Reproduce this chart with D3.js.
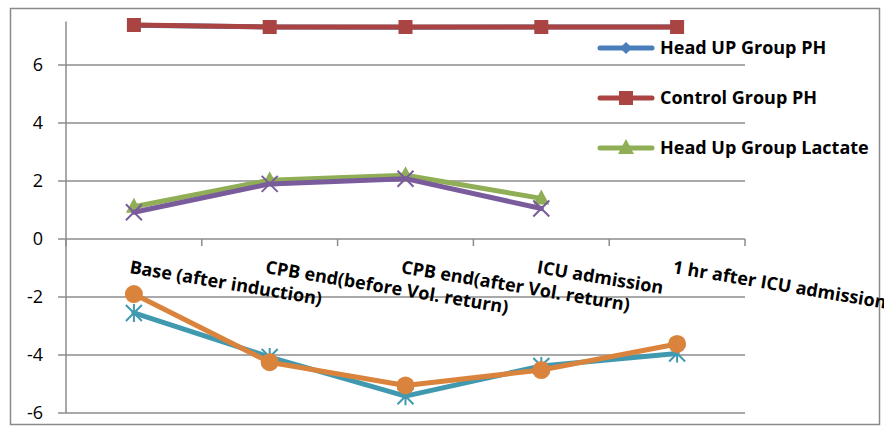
<!DOCTYPE html>
<html><head><meta charset="utf-8">
<script src="https://cdn.jsdelivr.net/npm/d3@7"></script>
<style>body{margin:0;background:#fff}svg{display:block}</style>
</head><body>
<svg id="c" width="884" height="429"></svg>
<script>
const categories = ["Base (after induction)", "CPB end(before Vol. return)", "CPB end(after Vol. return)", "ICU admission", "1 hr after ICU admission"];
const headUpPH = [7.37, 7.31, 7.30, 7.31, 7.31];
const controlPH = [7.38, 7.31, 7.31, 7.31, 7.31];
const headUpLactate = [1.11, 2.03, 2.2, 1.4];
const controlLactate = [0.92, 1.9, 2.08, 1.05];
const headUpBE = [-2.55, -4.07, -5.42, -4.38, -3.95];
const controlBE = [-1.9, -4.25, -5.05, -4.52, -3.62];
const yTicks = [-6, -4, -2, 0, 2, 4, 6];
const legendNames = ["Head UP Group PH", "Control Group PH", "Head Up Group Lactate"];

const series = [
  {vals: headUpPH, color: "#4A7EBB", marker: "diamond"},
  {vals: controlPH, color: "#A94442", marker: "square"},
  {vals: headUpLactate, color: "#8FAE55", marker: "triangle"},
  {vals: controlLactate, color: "#7A5C9C", marker: "x"},
  {vals: headUpBE, color: "#4199B0", marker: "star"},
  {vals: controlBE, color: "#DA833C", marker: "circle"}
];

const FONT = "'Open Sans', Lato, sans-serif";
const svg = d3.select("#c");
const L = 66, R = 745, T = 21.5, B = 413;
const x = d3.scaleBand().domain(categories).range([L, R]);
const y = d3.scaleLinear().domain([-6, 7.5]).range([B, T]);
const grey = "#8c8c8c";

svg.append("rect").attr("x", 10.5).attr("y", 8.5).attr("width", 869).attr("height", 416)
  .attr("fill", "none").attr("stroke", "#8a8a8a").attr("stroke-width", 1.5);

svg.append("g").selectAll("line").data(yTicks).join("line")
  .attr("x1", L - 8).attr("x2", R).attr("y1", d => y(d)).attr("y2", d => y(d))
  .attr("stroke", grey).attr("stroke-width", 1.5);
svg.append("line").attr("x1", L).attr("x2", L).attr("y1", T).attr("y2", B)
  .attr("stroke", grey).attr("stroke-width", 1.5);
svg.append("g").selectAll("text").data(yTicks).join("text")
  .attr("x", 43).attr("y", d => y(d)).attr("dy", "0.36em").attr("text-anchor", "end")
  .attr("font-family", FONT).attr("font-size", 18).attr("fill", "#000")
  .text(d => d);

const bounds = categories.map(c => x(c)).concat([R]);
svg.append("g").selectAll("line").data(bounds).join("line")
  .attr("x1", d => d).attr("x2", d => d).attr("y1", y(0)).attr("y2", y(0) + 7)
  .attr("stroke", grey).attr("stroke-width", 1.5);

svg.append("g").selectAll("text").data(categories).join("text")
  .attr("transform", d => `translate(${x(d) + x.bandwidth()/2 - 5},273) rotate(9.5)`)
  .attr("font-family", FONT).attr("font-weight", "bold")
  .attr("font-size", 18).attr("fill", "#000")
  .text(d => d);

const cx = i => x(categories[i]) + x.bandwidth()/2;

function drawMarker(g, type, color, px, py) {
  if (type === "square") {
    g.append("rect").attr("x", px - 7).attr("y", py - 7).attr("width", 14).attr("height", 14).attr("fill", color);
  } else if (type === "circle") {
    g.append("circle").attr("cx", px).attr("cy", py).attr("r", 9).attr("fill", color);
  } else if (type === "diamond") {
    g.append("path").attr("d", `M${px},${py-6}L${px+6},${py}L${px},${py+6}L${px-6},${py}Z`).attr("fill", color);
  } else if (type === "triangle") {
    g.append("path").attr("d", `M${px},${py-9}L${px+8},${py+6}L${px-8},${py+6}Z`).attr("fill", color);
  } else if (type === "x") {
    g.append("path").attr("d", `M${px-8},${py-8}L${px+8},${py+8}M${px-8},${py+8}L${px+8},${py-8}`)
      .attr("stroke", color).attr("stroke-width", 2);
  } else if (type === "star") {
    g.append("path").attr("d", `M${px-8},${py-8}L${px+8},${py+8}M${px-8},${py+8}L${px+8},${py-8}M${px},${py-9}L${px},${py+9}`)
      .attr("stroke", color).attr("stroke-width", 2);
  }
}

const line = d3.line().x((d, i) => cx(i)).y(d => y(d));
series.forEach(s => {
  const g = svg.append("g");
  g.append("path").attr("d", line(s.vals)).attr("fill", "none").attr("stroke", s.color)
    .attr("stroke-width", 5).attr("stroke-linejoin", "round").attr("stroke-linecap", "round");
  s.vals.forEach((v, i) => drawMarker(g, s.marker, s.color, cx(i), y(v)));
});

const lg = svg.append("g");
legendNames.forEach((n, i) => {
  const ly = 48 + i * 50;
  const s = series[i];
  lg.append("line").attr("x1", 600).attr("x2", 652).attr("y1", ly).attr("y2", ly)
    .attr("stroke", s.color).attr("stroke-width", 5).attr("stroke-linecap", "round");
  drawMarker(lg, s.marker, s.color, 626, ly);
  lg.append("text").attr("x", 660).attr("y", ly).attr("dy", "0.35em")
    .attr("font-family", FONT).attr("font-weight", "bold")
    .attr("font-size", 18).attr("fill", "#000").text(n);
});
</script>
</body></html>
